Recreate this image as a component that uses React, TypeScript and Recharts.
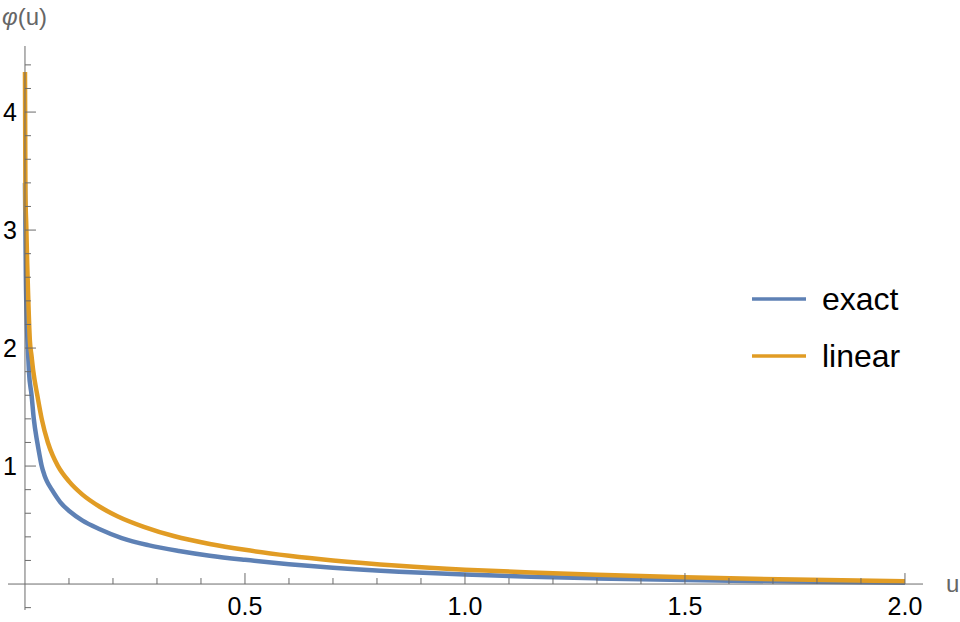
import { LineChart, Line, XAxis, YAxis, ReferenceLine, ReferenceDot } from "recharts";

// values
const uExact = [
  0, 0.002, 0.0045, 0.007, 0.009, 0.015, 0.02, 0.028, 0.033, 0.038, 0.044, 0.05, 0.061, 0.08, 0.102,
  0.13, 0.17, 0.22, 0.28, 0.35, 0.42, 0.5, 0.6, 0.7, 0.85, 1.0, 1.15, 1.3, 1.5, 1.75, 2.0,
];
const exactValues = [
  3.4, 2.6, 2.18, 1.96, 1.8, 1.6, 1.4, 1.2, 1.095, 1.0, 0.925, 0.87, 0.8, 0.695, 0.615,
  0.54, 0.465, 0.39, 0.33, 0.28, 0.24, 0.205, 0.168, 0.138, 0.104, 0.08, 0.062, 0.048, 0.034, 0.021, 0.012,
];
const uLinear = [
  0, 0.001, 0.003, 0.005, 0.007, 0.011, 0.015, 0.019, 0.028, 0.038, 0.052, 0.063, 0.075, 0.1, 0.13,
  0.17, 0.21, 0.27, 0.34, 0.42, 0.5, 0.6, 0.7, 0.85, 1.0, 1.15, 1.3, 1.5, 1.75, 2.0,
];
const linearValues = [
  4.34, 3.31, 3.03, 2.72, 2.47, 2.07, 1.93, 1.8, 1.6, 1.4, 1.2, 1.09, 1.0, 0.87, 0.76,
  0.655, 0.575, 0.485, 0.405, 0.34, 0.29, 0.24, 0.2, 0.155, 0.122, 0.098, 0.078, 0.057, 0.038, 0.023,
];

const seriesNames = ["exact", "linear"];
const seriesColors = ["#5E81B5", "#E19C24"];

const xMinorTicks = [0.1, 0.2, 0.3, 0.4, 0.6, 0.7, 0.8, 0.9, 1.1, 1.2, 1.3, 1.4, 1.6, 1.7, 1.8, 1.9];
const xMajorTicks = [0.5, 1.0, 1.5, 2.0];
const xTickLabels = ["0.5", "1.0", "1.5", "2.0"];
const yMinorTicks = [-0.2, 0.2, 0.4, 0.6, 0.8, 1.2, 1.4, 1.6, 1.8, 2.2, 2.4, 2.6, 2.8, 3.2, 3.4, 3.6, 3.8, 4.2, 4.4];
const yMajorTicks = [1, 2, 3, 4];
const yTickLabels = ["1", "2", "3", "4"];

const exactData = uExact.map((u, i) => ({ u, v: exactValues[i] }));
const linearData = uLinear.map((u, i) => ({ u, v: linearValues[i] }));

const AXIS = "#6b6b6b";
const FONT = "'Liberation Sans', Arial, sans-serif";

const xTick = (len: number) => (p: { cx?: number; cy?: number }) =>
  <line x1={p.cx} y1={p.cy} x2={p.cx} y2={(p.cy ?? 0) - len} stroke={AXIS} strokeWidth={1} />;
const yTick = (len: number) => (p: { cx?: number; cy?: number }) =>
  <line x1={p.cx} y1={p.cy} x2={(p.cx ?? 0) + len} y2={p.cy} stroke={AXIS} strokeWidth={1} />;

export default function App() {
  return (
    <div style={{ position: "absolute", left: 0, top: 0, width: 960, height: 622, background: "#fff" }}>
      <LineChart
        width={960}
        height={622}
        margin={{ top: 46, right: 37, bottom: 12, left: 8 }}
        style={{ fontFamily: FONT }}
      >
        <XAxis type="number" dataKey="u" domain={[-0.0386, 2.041]} hide allowDataOverflow />
        <YAxis type="number" dataKey="v" domain={[-0.22, 4.56]} hide allowDataOverflow />
        <Line
          data={exactData}
          dataKey="v"
          type="monotone"
          stroke={seriesColors[0]}
          strokeWidth={4.5}
          dot={false}
          isAnimationActive={false}
        />
        <Line
          data={linearData}
          dataKey="v"
          type="monotone"
          stroke={seriesColors[1]}
          strokeWidth={4.5}
          dot={false}
          isAnimationActive={false}
        />
        <ReferenceLine y={0} stroke={AXIS} strokeWidth={1} />
        <ReferenceLine x={0} stroke={AXIS} strokeWidth={1} />
        {xMinorTicks.map((t) => (
          <ReferenceDot key={"xm" + t} x={t} y={0} r={0} shape={xTick(6)} />
        ))}
        {xMajorTicks.map((t, i) => (
          <ReferenceDot
            key={"xM" + t}
            x={t}
            y={0}
            r={0}
            shape={xTick(11)}
            label={{ value: xTickLabels[i], position: "bottom", offset: 13, fill: "#000", fontSize: 25, fontFamily: FONT }}
          />
        ))}
        {yMinorTicks.map((t) => (
          <ReferenceDot key={"ym" + t} x={0} y={t} r={0} shape={yTick(6)} />
        ))}
        {yMajorTicks.map((t, i) => (
          <ReferenceDot
            key={"yM" + t}
            x={0}
            y={t}
            r={0}
            shape={yTick(11)}
            label={{ value: yTickLabels[i], position: "left", offset: 8, fill: "#000", fontSize: 25, fontFamily: FONT }}
          />
        ))}
      </LineChart>
      <svg
        width={960}
        height={622}
        style={{ position: "absolute", left: 0, top: 0, pointerEvents: "none", fontFamily: FONT }}
      >
        <text x={2} y={25} fontSize={24} fill="#666">
          <tspan fontStyle="italic">φ</tspan>(u)
        </text>
        <text x={946} y={592} fontSize={24} fill="#666">
          u
        </text>
        {seriesNames.map((name, i) => (
          <g key={name}>
            <line x1={752} x2={806} y1={299 + i * 57} y2={299 + i * 57} stroke={seriesColors[i]} strokeWidth={3.5} />
            <text x={822} y={310 + i * 57} fontSize={32} fill="#000">
              {name}
            </text>
          </g>
        ))}
      </svg>
    </div>
  );
}
